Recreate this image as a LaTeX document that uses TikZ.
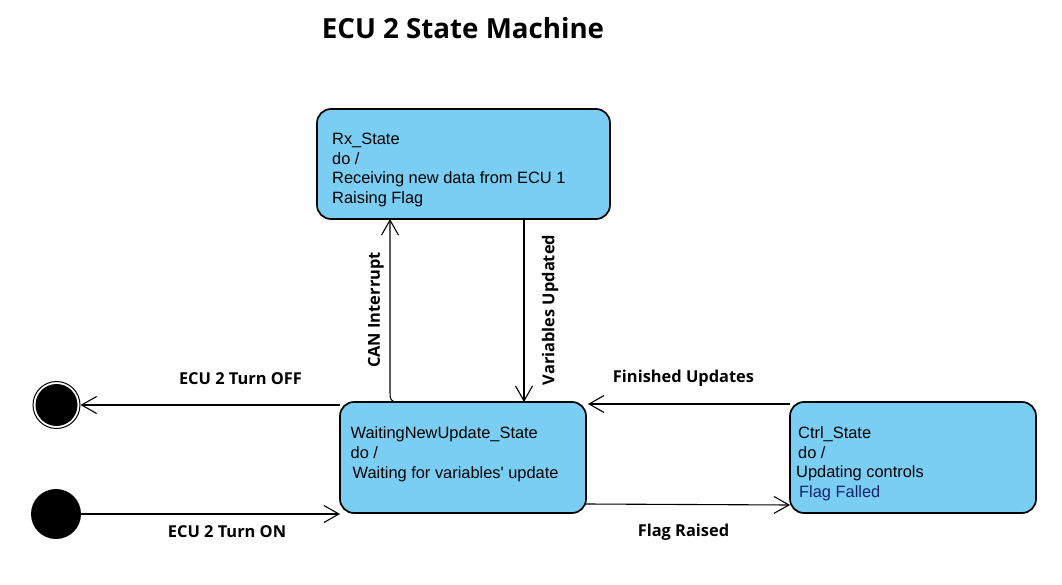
\documentclass[tikz,border=0pt]{standalone}
\usepackage{fontspec}
\setmainfont{Liberation Sans}
\newfontfamily\labfont{Open Sans}
\usetikzlibrary{arrows.meta}
\definecolor{stfill}{HTML}{7ACEF4}
\definecolor{navytext}{HTML}{14246A}
\begin{document}
\begin{tikzpicture}[x=1pt,y=-1pt,
  statebox/.style={draw=black, line width=1.7pt, fill=stfill, rounded corners=14pt, inner sep=0pt, outer sep=0pt, anchor=north west},
  sttext/.style={align=left, inner sep=0pt, anchor=base west, font=\fontsize{16.4}{19.7}\selectfont},
  conn/.style={draw=black, line width=1.1pt, -{Straight Barb[length=15pt,width=17pt,line width=1.1pt]}},
  lbl/.style={font=\labfont\bfseries\fontsize{16.4}{19}\selectfont, inner sep=0pt},
  ttl/.style={font=\labfont\bfseries\fontsize{27.7}{32}\selectfont, inner sep=0pt}]
\useasboundingbox (0,0) rectangle (1062,585);
\fill[white] (0,0) rectangle (1062,585);

\node[ttl] (title) at (463,28) {ECU 2 State Machine};

% states
\node[statebox, minimum width=293pt, minimum height=110pt] (rx) at (317,109) {};
\node[statebox, minimum width=246pt, minimum height=111pt] (wait) at (340,402) {};
\node[statebox, minimum width=246pt, minimum height=111pt] (ctrl) at (790,402) {};

\node[sttext] (rxt) at (332,203.5) {Rx\_State\\do /\\Receiving new data from ECU 1\\Raising Flag};
\node[sttext] (waitt) at (350.5,478) {WaitingNewUpdate\_State\\do /\\\hspace*{2pt}Waiting for variables\textquotesingle{} update};
\node[sttext] (ctrlt) at (798,497.5) {Ctrl\_State\\do /\\\hspace*{-2pt}Updating controls\\\hspace*{1pt}\textcolor{navytext}{Flag Falled}};

% pseudo states
\node[circle, draw=black, line width=1pt, fill=white, minimum size=47pt, inner sep=0pt] (fin) at (56.5,405) {};
\fill[black] (fin.center) circle (21pt);
\node[circle, fill=black, minimum size=50pt, inner sep=0pt] (init) at (56,514) {};

% transitions
\draw[conn] ([yshift=-3pt]wait.north west) -- (fin.east);
\draw[conn] (init.east) -- (wait.south west |- init.east);
\draw[conn] ([xshift=57pt]wait.north west) .. controls +(-6,0) and +(0,6) .. ++(-7,-9) -- (390,0 |- rx.south);
\draw[conn] (524,0 |- rx.south) -- (524,0 |- wait.north);
\draw[conn] ([yshift=-2pt]ctrl.north west) -- ([xshift=2pt,yshift=-2pt]wait.north east);
\draw[conn] ([yshift=9pt]wait.south east) -- ([yshift=8pt]ctrl.south west);

% labels
\node[lbl] (loff) at (240.5,379) {ECU 2 Turn OFF};
\node[lbl] (lon) at (227,532) {ECU 2 Turn ON};
\node[lbl, rotate=90] (lcan) at (376,310) {CAN Interrupt};
\node[lbl, rotate=90] (lvar) at (550,310) {Variables Updated};
\node[lbl] (lfin) at (683.5,378) {Finished Updates};
\node[lbl] (lflag) at (683.5,532) {Flag Raised};
\end{tikzpicture}
\end{document}
